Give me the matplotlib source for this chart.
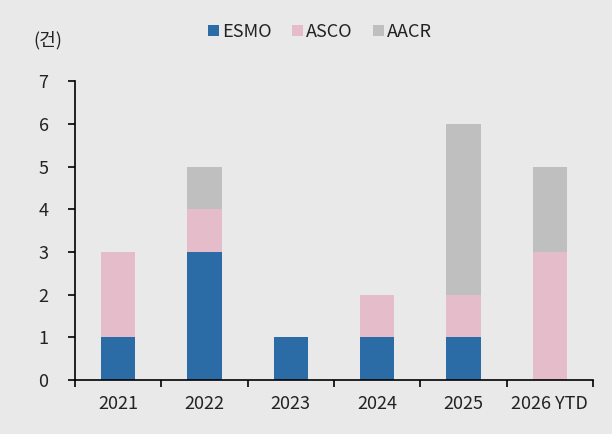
import matplotlib

matplotlib.use("Agg")
import matplotlib.pyplot as plt
import numpy as np

plt.rcParams["font.family"] = ["Noto Sans CJK KR", "DejaVu Sans"]

# data
years = ["2021", "2022", "2023", "2024", "2025", "2026 YTD"]
esmo = [1, 3, 1, 1, 1, 0]
asco = [2, 1, 0, 1, 1, 3]
aacr = [0, 1, 0, 0, 4, 2]

bg = "#E9E9E9"
txt = "#222222"
fs = 13

fig = plt.figure(figsize=(6.12, 4.34), dpi=100, facecolor=bg)
ax = fig.add_axes([0.1225, 0.1244, 0.8465, 0.6886], facecolor=bg)

x = np.arange(len(years))
w = 0.4
esmo_a = np.array(esmo)
asco_a = np.array(asco)
aacr_a = np.array(aacr)

ax.bar(x, esmo_a, width=w, color="#2B6CA7", label="ESMO")
ax.bar(x, asco_a, width=w, bottom=esmo_a, color="#E5BDCA", label="ASCO")
ax.bar(x, aacr_a, width=w, bottom=esmo_a + asco_a, color="#BFBFBF", label="AACR")

ax.set_xlim(-0.5, len(years) - 0.5)
ax.set_ylim(0, 7)
ax.set_yticks(range(0, 8))

# category labels centered, ticks on boundaries
ax.set_xticks(np.arange(-0.5, len(years)), minor=False)
ax.set_xticklabels([])
ax.set_xticks(x, minor=True)
ax.set_xticklabels(years, minor=True)
ax.tick_params(axis="x", which="minor", length=0, pad=11, labelsize=fs, labelcolor=txt)
ax.tick_params(axis="x", which="major", length=5, width=1.2, color="black")
ax.tick_params(axis="y", length=5, width=1.2, color="black", pad=14,
               labelsize=fs, labelcolor=txt)

for s in ["top", "right"]:
    ax.spines[s].set_visible(False)
for s in ["left", "bottom"]:
    ax.spines[s].set_linewidth(1.2)
    ax.spines[s].set_color("black")

fig.text(0.078, 0.908, "(건)", fontsize=fs, color=txt, ha="center", va="center")

fig.legend(*ax.get_legend_handles_labels(), loc="center", bbox_to_anchor=(0.523, 0.926),
           ncol=3, frameon=False, fontsize=fs, handlelength=0.6, handleheight=0.6,
           handletextpad=0.2, columnspacing=1.1, labelcolor=txt)

fig.savefig("out.png", dpi=100, facecolor=bg)
